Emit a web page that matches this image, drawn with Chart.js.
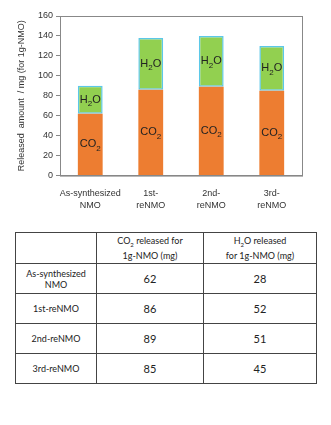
<!DOCTYPE html>
<html>
<head>
<meta charset="utf-8">
<script src="https://cdn.jsdelivr.net/npm/chart.js@4"></script>
<style>
  body { margin: 0; background: #fff; width: 331px; height: 425px; overflow: hidden; }
  #wrap { position: absolute; left: 0; top: 0; width: 331px; height: 215px; }
  table {
    position: absolute; left: 15px; top: 232px;
    border-collapse: collapse;
    font-family: Lato, "Open Sans", sans-serif;
    color: #222;
  }
  td, th { border: 1px solid #444; text-align: center; padding: 0; font-weight: normal; }
  th { height: 30px; font-size: 9px; line-height: 11px; }
  td { height: 29px; }
  td.name { font-size: 9px; line-height: 11px; }
  td.num { font-size: 11px; }
</style>
</head>
<body>
<div id="wrap"><canvas id="myChart" width="331" height="215"></canvas></div>
<table id="tbl"></table>
<script>
// Data
var categories = [['As-synthesized', 'NMO'], ['1st-', 'reNMO'], ['2nd-', 'reNMO'], ['3rd-', 'reNMO']];
var rowNames = [['As-synthesized', 'NMO'], ['1st-reNMO'], ['2nd-reNMO'], ['3rd-reNMO']];
var co2Values = [62, 86, 89, 85];
var h2oValues = [28, 52, 51, 45];
var yTicks = [0, 20, 40, 60, 80, 100, 120, 140, 160];

// Table below the chart
var tbl = document.getElementById('tbl');
var html = '<tr><th style="width:80px"></th>' +
    '<th style="width:106px">CO<sub style="font-size:6px">2</sub> released for<br>1g-NMO (mg)</th>' +
    '<th style="width:112px">H<sub style="font-size:6px">2</sub>O released<br>for 1g-NMO (mg)</th></tr>';
for (var i = 0; i < rowNames.length; i++) {
    html += '<tr><td class="name">' + rowNames[i].join('<br>') + '</td>' +
        '<td class="num">' + co2Values[i] + '</td>' +
        '<td class="num">' + h2oValues[i] + '</td></tr>';
}
tbl.innerHTML = html;

// label with subscript 2, e.g. CO + 2
function drawChem(ctx, base, tail, x, y) {
    var big = '11px "Liberation Sans", Arial, sans-serif';
    var small = '8px "Liberation Sans", Arial, sans-serif';
    ctx.font = big;
    var w1 = ctx.measureText(base).width;
    var w3 = ctx.measureText(tail).width;
    ctx.font = small;
    var w2 = ctx.measureText('2').width;
    var x0 = x - (w1 + w2 + w3) / 2;
    ctx.fillStyle = '#222';
    ctx.textBaseline = 'middle';
    ctx.textAlign = 'left';
    ctx.font = big;
    ctx.fillText(base, x0, y);
    ctx.font = small;
    ctx.fillText('2', x0 + w1, y + 4);
    ctx.font = big;
    ctx.fillText(tail, x0 + w1 + w2, y);
}

var labelPlugin = {
    id: 'labels',
    afterDatasetsDraw: function (chart) {
        var ctx = chart.ctx;
        ctx.save();
        var ca = chart.chartArea;
        ctx.strokeStyle = '#888';
        ctx.lineWidth = 1;
        ctx.strokeRect(ca.left + 0.5, ca.top + 0.5, ca.right - ca.left, ca.bottom - ca.top);
        var m0 = chart.getDatasetMeta(0);
        var m1 = chart.getDatasetMeta(1);
        for (var i = 0; i < m0.data.length; i++) {
            var b0 = m0.data[i], b1 = m1.data[i];
            drawChem(ctx, 'CO', '', b0.x, (b0.y + b0.base) / 2);
            drawChem(ctx, 'H', 'O', b1.x, (b1.y + b1.base) / 2);
        }
        ctx.restore();
    }
};

const ctx = document.getElementById('myChart').getContext('2d');
const myChart = new Chart(ctx, {
    type: 'bar',
    data: {
        labels: categories,
        datasets: [{
            label: 'CO2',
            data: co2Values,
            backgroundColor: '#ED7D31',
            borderWidth: 0,
            barPercentage: 0.82,
            categoryPercentage: 0.5
        }, {
            label: 'H2O',
            data: h2oValues,
            backgroundColor: '#92D050',
            borderColor: '#5BC8E8',
            borderWidth: 1.5,
            borderSkipped: false,
            barPercentage: 0.82,
            categoryPercentage: 0.5
        }]
    },
    options: {
        responsive: false,
        animation: false,
        layout: { padding: { top: 16, right: 29, left: 16, bottom: 0 } },
        plugins: {
            legend: { display: false },
            tooltip: { enabled: false }
        },
        scales: {
            x: {
                stacked: true,
                grid: { display: false },
                border: { color: '#888' },
                ticks: {
                    color: '#333',
                    padding: 4,
                    maxRotation: 0,
                    autoSkip: false,
                    font: { family: '"Liberation Sans", Arial, sans-serif', size: 9, lineHeight: 1.3 }
                }
            },
            y: {
                stacked: true,
                min: 0,
                max: 160,
                afterBuildTicks: function (axis) {
                    axis.ticks = yTicks.map(function (v) { return { value: v }; });
                },
                afterFit: function (axis) { axis.width = 44; },
                grid: { drawOnChartArea: false, tickLength: 4, color: '#888' },
                border: { color: '#888' },
                ticks: {
                    color: '#333',
                    padding: 3,
                    font: { family: '"Liberation Sans", Arial, sans-serif', size: 9 }
                },
                title: {
                    display: true,
                    text: 'Released  amount  / mg (for 1g-NMO)',
                    color: '#333',
                    padding: 0,
                    font: { family: '"Liberation Sans", Arial, sans-serif', size: 9 }
                }
            }
        }
    },
    plugins: [labelPlugin]
});
</script>
</body>
</html>
